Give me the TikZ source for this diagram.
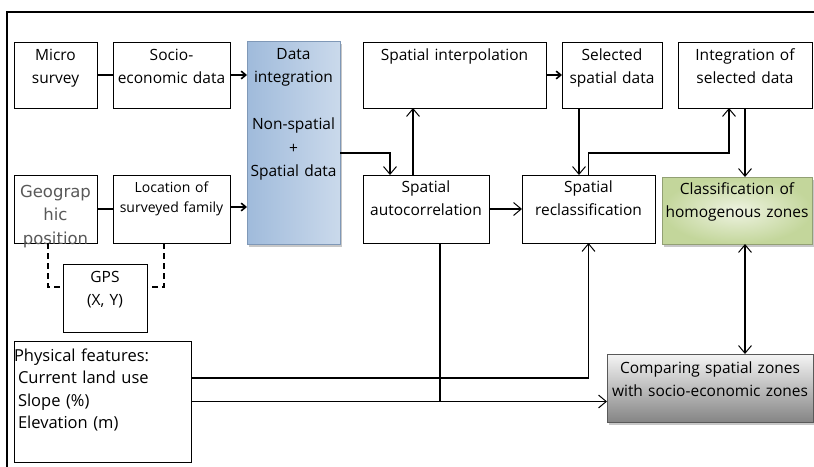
\documentclass[tikz,border=0pt]{standalone}
\usepackage{fontspec}
\setmainfont{Open Sans}
\newfontfamily\geofont{DejaVu Sans}
\usetikzlibrary{arrows.meta,shadows}
\definecolor{blueA}{HTML}{DCE6F2}
\definecolor{blueB}{HTML}{95B3D7}
\definecolor{greenA}{HTML}{EEF3E1}
\definecolor{greenB}{HTML}{C3D69B}
\tikzset{
  blk/.style 2 args={draw, line width=0.8pt, anchor=north west, inner sep=0pt, outer sep=0pt,
    align=center, text width=#1pt, text height=18pt, text depth=#2pt,
    font=\fontsize{15.5}{23.5}\selectfont},
  arr/.style={line width=1.2pt, -{Straight Barb[angle=80:10pt,line width=1pt]}},
  arrboth/.style={line width=1.2pt, {Straight Barb[angle=80:10pt,line width=1pt]}-{Straight Barb[angle=80:10pt,line width=1pt]}},
  arrs/.style={line width=1.2pt, -{Straight Barb[angle=80:6pt,line width=1.6pt]}},
  gpsline/.style={line width=1.5pt, dash pattern=on 6pt off 4pt},
  shad/.style={drop shadow={shadow xshift=2pt, shadow yshift=-2.5pt, fill=black!22, opacity=1}}
}
\begin{document}
\begin{tikzpicture}[x=1pt,y=-1pt]
\useasboundingbox (0,0) rectangle (814,466);
\draw[line width=1.6pt] (7,470) -- (7,12) -- (818,12);
\node[blk={83}{48}] (micro) at (14,42) {Micro\\survey};
\node[blk={117}{48}] (socio) at (113,42) {Socio-\\economic data};
\node[blk={93}{185}, shad, draw=blueB!85!black, left color=blueB!85!blueA, middle color=blueA, right color=blueA!75!blueB] (dataint) at (247,41)
  {Data\\integration\\[23.5pt]Non-spatial\\+\\Spatial data};
\node[blk={183}{48}] (interp) at (363,42) {Spatial interpolation};
\node[blk={100}{48}] (selected) at (562,42) {Selected\\spatial data};
\node[blk={134}{48}] (integsel) at (678,42) {Integration of\\selected data};
\node[blk={83}{46}, text height=22pt, text=black!65, font=\geofont\fontsize{16.5}{23.5}\selectfont] (geo) at (14,175) {Geograp\\hic\\position};
\node[blk={117}{51}, text height=17pt, font=\fontsize{14}{20}\selectfont] (loc) at (113,175) {Location of\\surveyed family};
\node[blk={126}{51}, text height=17pt] (autocorr) at (363,175) {Spatial\\autocorrelation};
\node[blk={133}{51}, text height=17pt] (reclass) at (522,175) {Spatial\\reclassification};
\node[blk={150}{50}, text height=17pt, shad, draw=greenB!75!black, inner color=greenA, outer color=greenB] (classif) at (662,177)
  {Classification of\\homogenous zones};
\node[blk={84}{50}] (gps) at (63,264) {GPS\\(X, Y)};
\node[blk={177}{101}, text height=20pt, align=left, font=\fontsize{16.5}{22.5}\selectfont] (phys) at (14,341)
  {Physical features:\\\hspace{4pt}Current land use\\\hspace{4pt}Slope (\%)\\\hspace{4pt}Elevation (m)};
\node[blk={206}{49}, text height=19pt, shad, draw=black!65, top color=black!4, bottom color=black!48] (compare) at (607,354)
  {Comparing spatial zones\\with socio-economic zones};
\coordinate (c1) at (390,153);
\coordinate (c2) at (729,153);
\draw[line width=1.8pt] (micro) -- (socio);
\draw[arrs] (socio.east) -- (socio.east -| dataint.west);
\draw[line width=1.8pt] (geo) -- (loc);
\draw[arrs] ([yshift=2pt]loc.east) -- ([yshift=2pt]loc.east -| dataint.west);
\draw[arr] (c1 -| dataint.east) -- (c1) -- (c1 |- autocorr.north);
\draw[arr] ([xshift=-13pt]autocorr.north) -- ([xshift=-13pt]autocorr.north |- interp.south);
\draw[arrs] (interp) -- (selected);
\draw[arr] ([xshift=-33pt]selected.south) -- ([xshift=-33pt]selected.south |- reclass.north);
\draw[arr] (reclass.north) |- (c2) -- (c2 |- integsel.south);
\draw[arr] (integsel.south) -- (integsel.south |- classif.north);
\draw[arr] (autocorr) -- (reclass);
\draw[arrboth] (classif.south -| integsel.south) -- (compare.north -| integsel.south);
\draw[arr] ([yshift=23.5pt]phys.east) -| (reclass.south);
\draw[arr] (phys.east) -- (phys.east -| compare.west);
\draw[line width=1.2pt] ([xshift=14pt]autocorr.south) -- ([xshift=14pt]autocorr.south |- phys.east);
\draw[gpsline] ([xshift=-7.5pt]geo.south) |- ([yshift=11pt]gps.west);
\draw[gpsline] ([xshift=-7.5pt]loc.south) |- ([yshift=11pt]gps.east);
\end{tikzpicture}
\end{document}
